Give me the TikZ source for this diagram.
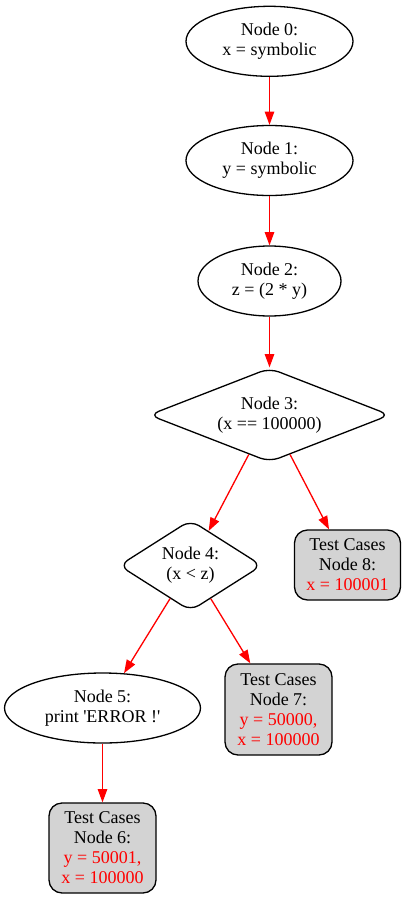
\documentclass[tikz,border=0pt]{standalone}
\usepackage{fontspec}
\setmainfont{Liberation Serif}
\usetikzlibrary{shapes.geometric,arrows.meta}
\definecolor{tcgray}{RGB}{211,211,211}
\newcommand\straightq{\XeTeXglyph\XeTeXcharglyph"27\relax}
\tikzset{
  base/.style={draw=black, line width=1.3pt, inner sep=0pt, align=center,
    font=\fontsize{18}{20}\selectfont},
  ell/.style={base, ellipse},
  dia/.style={base, diamond, rounded corners=10pt},
  tc/.style={base, rectangle, rounded corners=13pt, fill=tcgray},
  edge/.style={draw=red, line width=1.3pt, -{Triangle[length=13.3pt,width=9.5pt]}, fill=red}
}
\begin{document}
\begin{tikzpicture}[x=1pt,y=-1pt]
\useasboundingbox (0,0) rectangle (407,899);
\node[ell, minimum width=167pt, minimum height=70pt] (n0) at (269.5,41.3) {Node 0:\\x = symbolic};
\node[ell, minimum width=167pt, minimum height=70pt] (n1) at (269.5,160.5) {Node 1:\\y = symbolic};
\node[ell, minimum width=143pt, minimum height=70pt] (n2) at (269.5,281) {Node 2:\\z = (2 * y)};
\node[dia, shape aspect=2.5, minimum width=241pt, minimum height=94pt] (n3) at (269.5,415) {Node 3:\\(x == 100000)};
\node[dia, shape aspect=1.6, minimum width=143pt, minimum height=91pt] (n4) at (190.5,565.5) {Node 4:\\(x < z)};
\node[tc, minimum width=106pt, minimum height=70pt] (n8) at (347.5,565) {Test Cases\\Node 8:\\\textcolor{red}{x = 100001}};
\node[ell, minimum width=196pt, minimum height=70pt] (n5) at (102.5,708) {Node 5:\\print \straightq ERROR !\straightq};
\node[tc, minimum width=107pt, minimum height=91pt] (n7) at (278.5,709.5) {Test Cases\\Node 7:\\\textcolor{red}{y = 50000,}\\\textcolor{red}{x = 100000}};
\node[tc, minimum width=107pt, minimum height=90pt] (n6) at (102.5,848) {Test Cases\\Node 6:\\\textcolor{red}{y = 50001,}\\\textcolor{red}{x = 100000}};
\draw[edge] (n0) -- (n1);
\draw[edge] (n1) -- (n2);
\draw[edge] (n2) -- (n3);
\draw[edge] (n3) -- (n4);
\draw[edge] (n3) -- (n8);
\draw[edge] (n4) -- (n5);
\draw[edge] (n4) -- (n7);
\draw[edge] (n5) -- (n6);
\end{tikzpicture}
\end{document}
